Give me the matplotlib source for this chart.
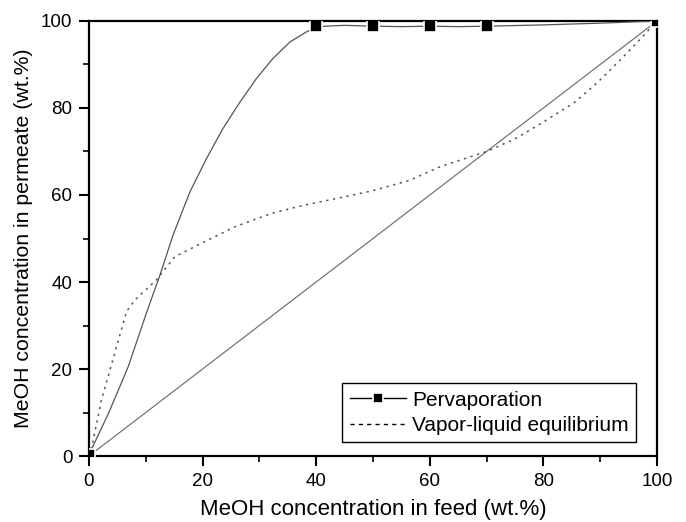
import matplotlib
matplotlib.use("Agg")
import matplotlib.pyplot as plt
from matplotlib.lines import Line2D
from matplotlib.ticker import MultipleLocator

plt.rcParams['font.family'] = ['Liberation Sans', 'DejaVu Sans']

perv_curve_x = [0, 3.5, 6.9, 10.2, 12.5, 14.8, 17.8, 20.7, 23.6, 26.6, 29.5, 32.4, 35.4, 38.3, 40,
                45, 50, 55, 60, 65, 70, 80, 90, 100]
perv_curve_y = [0.3, 10, 20.5, 33.2, 41.6, 50.8, 60.8, 68.4, 75.3, 81.4, 86.8, 91.4, 95.2, 97.5, 98.7,
                99.0, 98.8, 98.7, 98.8, 98.7, 98.8, 99.1, 99.5, 100]
perv_pts_x = [0, 40, 50, 60, 70, 100]
perv_pts_y = [0.3, 98.8, 98.8, 98.8, 98.9, 100]

# Vapor-liquid equilibrium
vle_x = [0, 0.5, 2.2, 5.2, 6.6, 8.1, 11.9, 15.1, 19.8, 25.7, 32.2, 38.0, 44.7, 50.0, 56.5, 61.8,
         70.0, 75.0, 79.4, 85.3, 89.4, 93.5, 96.4, 100]
vle_y = [0, 2.1, 12.9, 26.7, 33.2, 35.9, 40.5, 45.8, 48.9, 52.7, 55.8, 57.7, 59.5, 61.0, 63.4, 66.5,
         70.0, 72.9, 76.3, 81.1, 85.7, 91.0, 94.9, 100]

# Diagonal y = x
diag = [0, 100]

fig = plt.figure(figsize=(6.86, 5.22), dpi=100)
ax = fig.add_axes([0.1297, 0.1264, 0.828, 0.8334])

ax.plot(diag, diag, color='#666666', lw=0.8, zorder=2)
ax.plot(vle_x, vle_y, color='#555555', lw=1.1, linestyle=(0, (1.5, 3)), zorder=2)
ax.plot(perv_curve_x, perv_curve_y, color='#555555', lw=0.9, zorder=3)
ax.plot(perv_pts_x, perv_pts_y, linestyle='none', marker='s', markersize=8,
        markerfacecolor='black', markeredgecolor='white', markeredgewidth=1.2,
        zorder=4, clip_on=True)

ax.set_xlim(0, 100)
ax.set_ylim(0, 100)
ax.xaxis.set_major_locator(MultipleLocator(20))
ax.xaxis.set_minor_locator(MultipleLocator(10))
ax.yaxis.set_major_locator(MultipleLocator(20))
ax.yaxis.set_minor_locator(MultipleLocator(10))
ax.tick_params(which='major', direction='out', length=7, width=1.5, labelsize=13.5, pad=5)
ax.tick_params(which='minor', direction='out', length=4, width=1.2)
for s in ax.spines.values():
    s.set_linewidth(1.6)

ax.set_xlabel('MeOH concentration in feed (wt.%)', fontsize=16, labelpad=7)
ax.set_ylabel('MeOH concentration in permeate (wt.%)', fontsize=15.3, labelpad=6)

handles = [
    Line2D([], [], color='black', lw=1.0, marker='s', markersize=7, markerfacecolor='black',
           markeredgecolor='white', markeredgewidth=1.2),
    Line2D([], [], color='black', lw=1.0, linestyle=(0, (3, 3))),
]
leg = ax.legend(handles, ['Pervaporation', 'Vapor-liquid equilibrium'],
                loc='lower right', bbox_to_anchor=(0.963, 0.032), fontsize=15,
                frameon=True, fancybox=False, edgecolor='black', framealpha=1,
                handlelength=2.7, handletextpad=0.3, borderpad=0.35, labelspacing=0.3,
                borderaxespad=0)
leg.get_frame().set_linewidth(1.0)

fig.savefig('out.png', dpi=100)
